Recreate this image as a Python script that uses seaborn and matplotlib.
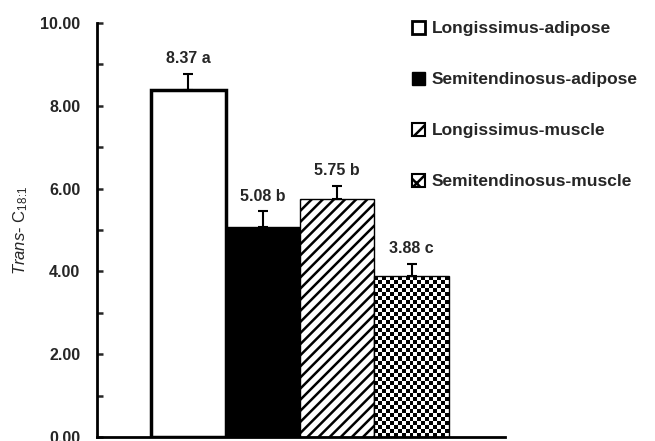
import numpy as np
import pandas as pd
import matplotlib
matplotlib.use('Agg')
import matplotlib.pyplot as plt
import seaborn as sns
from matplotlib.patches import Patch

# Datos
categorias = ['Longissimus-adipose', 'Semitendinosus-adipose',
              'Longissimus-muscle', 'Semitendinosus-muscle']
valores = [8.37, 5.08, 5.75, 3.88]
errores = [0.40, 0.38, 0.32, 0.30]
letras = ['a', 'b', 'b', 'c']
yticks = [0, 2, 4, 6, 8, 10]

sns.set_style('white')
plt.rcParams['font.family'] = ['Liberation Sans', 'DejaVu Sans']
plt.rcParams['mathtext.fontset'] = 'custom'
plt.rcParams['mathtext.rm'] = 'Liberation Sans'
plt.rcParams['mathtext.it'] = 'Liberation Sans:italic'
plt.rcParams['hatch.linewidth'] = 1.8

df = pd.DataFrame({'cat': categorias, 'val': valores})

fig = plt.figure(figsize=(6.55, 4.41), dpi=100)
ax = fig.add_axes([97 / 655, 1 - 437 / 441, 408 / 655, 414 / 441])

colores = ['white', 'black', 'white', 'white']
sns.barplot(data=df, x='cat', y='val', hue='cat', palette=colores,
            width=1.0, edgecolor='black', linewidth=1, legend=False,
            dodge=False, ax=ax)

barras = sorted(ax.patches, key=lambda p: p.get_x())
barras[0].set_linewidth(2.5)
barras[2].set_hatch('///')

xlim = (-1.225, 4.252)
ax.set_xlim(*xlim)
ax.set_ylim(0, 10)

# Patron de tablero para el ultimo bar
p = barras[3]
bb = p.get_bbox()
alto_px = ax.transData.transform((0, bb.y1))[1] - ax.transData.transform((0, bb.y0))[1]
nx = 19
ny = int(round(alto_px / 4))
tablero = np.add.outer(np.arange(ny), np.arange(nx)) % 2
im = ax.imshow(tablero, cmap='gray', extent=(bb.x0, bb.x1, bb.y0, bb.y1),
               aspect='auto', interpolation='nearest', zorder=2)
im.set_clip_path(p)
p.set_facecolor('none')
p.set_zorder(3)
ax.set_xlim(*xlim)
ax.set_ylim(0, 10)

# Barras de error (solo hacia arriba) y etiquetas
centros = [b.get_x() + b.get_width() / 2 for b in barras]
ax.errorbar(centros, valores, yerr=[[0] * 4, errores], fmt='none',
            ecolor='black', elinewidth=1.5, capsize=3.6, capthick=1.5, zorder=4)
for x, v, e, l in zip(centros, valores, errores, letras):
    ax.text(x, v + e + 0.18, f'{v:.2f} {l}', ha='center', va='bottom',
            fontsize=11.5, fontweight='bold')

# Ejes
ax.set_xticks([])
ax.set_xlabel('')
ax.set_yticks(yticks)
ax.set_yticklabels([f'{t:.2f}' for t in yticks], fontsize=11.5, fontweight='bold')
ax.set_yticks([1, 3, 5, 7, 9], minor=True)
ax.tick_params(axis='y', which='both', direction='in', length=4, width=1.8,
               pad=12, left=True)
ax.set_ylabel(r'$\mathit{Trans}$- C$_{18\!:\!1}$', fontsize=12, labelpad=7)
sns.despine(ax=ax)
for s in ['left', 'bottom']:
    ax.spines[s].set_linewidth(2)
    ax.spines[s].set_color('black')

# Leyenda
handles = [
    Patch(facecolor='white', edgecolor='black', linewidth=2),
    Patch(facecolor='black', edgecolor='black'),
    Patch(facecolor='white', edgecolor='black', linewidth=1.5, hatch='//'),
    Patch(facecolor='white', edgecolor='black', linewidth=1.5, hatch='xx'),
]
fig.legend(handles, categorias, loc='upper left',
           bbox_to_anchor=(412 / 655, 1 - 21 / 441), frameon=False,
           prop={'weight': 'bold', 'size': 12.5}, handlelength=0.75,
           handleheight=0.75, handletextpad=0.4, labelspacing=2.05,
           borderpad=0, borderaxespad=0)

fig.savefig('out.png', dpi=100)
